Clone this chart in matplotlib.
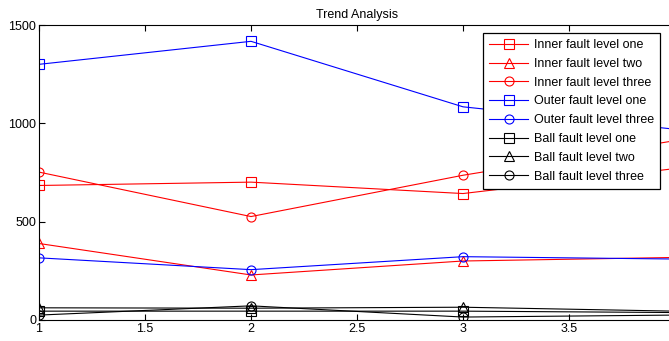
import matplotlib
matplotlib.use("Agg")
import matplotlib.pyplot as plt

plt.rcParams['font.family'] = ['Liberation Sans', 'DejaVu Sans']

x = [1, 2, 3, 4]
inner_one = [684, 701, 643, 770]
inner_two = [389, 229, 300, 318]
inner_three = [752, 526, 736, 912]
outer_one = [1300, 1417, 1084, 970]
outer_three = [316, 256, 322, 310]
ball_one = [45, 45, 45, 38]
ball_two = [62, 60, 65, 45]
ball_three = [25, 72, 15, 25]

series = [
    ("Inner fault level one", inner_one, 'r', 's'),
    ("Inner fault level two", inner_two, 'r', '^'),
    ("Inner fault level three", inner_three, 'r', 'o'),
    ("Outer fault level one", outer_one, 'b', 's'),
    ("Outer fault level three", outer_three, 'b', 'o'),
    ("Ball fault level one", ball_one, 'k', 's'),
    ("Ball fault level two", ball_two, 'k', '^'),
    ("Ball fault level three", ball_three, 'k', 'o'),
]

xtick_vals = [1, 1.5, 2, 2.5, 3, 3.5, 4]
xtick_labels = ['1', '1.5', '2', '2.5', '3', '3.5', '']
ytick_vals = [0, 500, 1000, 1500]

W, H = 669, 341
fig = plt.figure(figsize=(W / 100, H / 100), dpi=100)
ax = fig.add_axes([39 / W, 1 - 320 / H, (675 - 39) / W, (320 - 25) / H])

for label, vals, c, m in series:
    ax.plot(x, vals, color=c, marker=m, markerfacecolor='none', markeredgecolor=c,
            markersize=6.5, linewidth=0.8, markeredgewidth=0.8, label=label)

ax.set_xlim(1, 4)
ax.set_ylim(0, 1500)
ax.set_xticks(xtick_vals)
ax.set_xticklabels(xtick_labels)
ax.set_yticks(ytick_vals)
ax.tick_params(direction='in', top=True, right=True, labelsize=9, length=4,
               width=0.8, pad=2, colors='black')
for s in ax.spines.values():
    s.set_linewidth(0.8)
    s.set_color('black')

ax.set_title("Trend Analysis", fontsize=9, pad=5)

leg = ax.legend(loc='upper right', bbox_to_anchor=(660 / W, 1 - 33 / H),
                bbox_transform=fig.transFigure, borderaxespad=0, fontsize=9,
                fancybox=False, framealpha=1, edgecolor='black',
                handlelength=3.1, handletextpad=0.45, labelspacing=0.54,
                borderpad=0.5)
leg.get_frame().set_linewidth(0.9)

fig.savefig("out.png", dpi=100)
